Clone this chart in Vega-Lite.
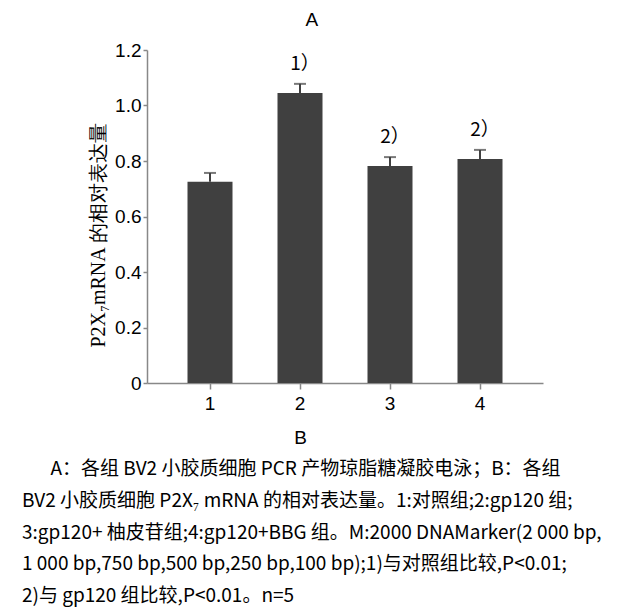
{
  "$schema": "https://vega.github.io/schema/vega-lite/v6.json",
  "padding": {"left": 22, "top": 11, "right": 5, "bottom": 5},
  "background": "white",
  "title": {"text": "A", "anchor": "middle", "fontSize": 19, "fontWeight": "normal", "font": "Liberation Sans", "color": "black", "offset": 11},
  "config": {"view": {"stroke": null}},
  "vconcat": [
    {
      "width": 396,
      "height": 333,
      "title": {
        "text": [
          "\u200b\u2003\u2002A：各组 BV2 小胶质细胞 PCR 产物琼脂糖凝胶电泳；B：各组",
          "BV2 小胶质细胞 P2X₇ mRNA 的相对表达量。1:对照组;2:gp120 组;",
          "3:gp120+ 柚皮苷组;4:gp120+BBG 组。M:2000 DNAMarker(2 000 bp,",
          "1 000 bp,750 bp,500 bp,250 bp,100 bp);1)与对照组比较,P<0.01;",
          "2)与 gp120 组比较,P<0.01。n=5"
        ],
        "orient": "bottom",
        "anchor": "start",
        "frame": "group",
        "dx": -125,
        "align": "left",
        "fontSize": 19,
        "fontWeight": "normal",
        "font": "Noto Sans CJK SC",
        "lineHeight": 31.8,
        "offset": 13,
        "color": "black"
      },
      "data": {
        "values": [
          {"group": "1", "value": 0.725, "hi": 0.757, "label": ""},
          {"group": "2", "value": 1.045, "hi": 1.078, "label": "1）"},
          {"group": "3", "value": 0.782, "hi": 0.814, "label": "2）"},
          {"group": "4", "value": 0.807, "hi": 0.84, "label": "2）"}
        ]
      },
      "encoding": {
        "x": {
          "field": "group",
          "type": "ordinal",
          "scale": {"paddingInner": 0.5, "paddingOuter": 0.45},
          "axis": {
            "title": "B",
            "labelAngle": 0,
            "domainColor": "#888888",
            "domainWidth": 1.5,
            "tickColor": "#888888",
            "tickWidth": 1.5,
            "tickSize": 6,
            "labelFontSize": 19,
            "labelFont": "Liberation Sans",
            "labelColor": "black",
            "labelPadding": 5,
            "titleFont": "Liberation Sans",
            "titleFontSize": 19,
            "titleFontWeight": "normal",
            "titleColor": "black",
            "titleX": 153,
            "titleAlign": "center",
            "titlePadding": 15
          }
        }
      },
      "layer": [
        {
          "mark": {"type": "bar", "color": "#404040"},
          "encoding": {
            "y": {
              "field": "value",
              "type": "quantitative",
              "scale": {"domain": [0, 1.2], "nice": false},
              "axis": {
                "title": "P2X₇mRNA 的相对表达量",
                "values": [0, 0.2, 0.4, 0.6, 0.8, 1.0, 1.2],
                "labelExpr": "datum.value == 0 ? '0' : format(datum.value, '.1f')",
                "grid": false,
                "domainColor": "#888888",
                "domainWidth": 1.5,
                "tickColor": "#888888",
                "tickWidth": 1.5,
                "tickSize": 4,
                "labelFontSize": 19,
                "labelFont": "Liberation Sans",
                "labelColor": "black",
                "labelPadding": 2,
                "titleFont": "Liberation Serif",
                "titleFontSize": 20,
                "titleFontWeight": "normal",
                "titleColor": "black",
                "titleX": -49,
                "titleY": 185,
                "titleAngle": -90,
                "titleBaseline": "middle",
                "titleAlign": "center"
              }
            }
          }
        },
        {
          "mark": {"type": "rule", "color": "#404040", "strokeWidth": 2},
          "encoding": {
            "y": {"field": "value", "type": "quantitative", "axis": {"title": "P2X₇mRNA 的相对表达量"}},
            "y2": {"field": "hi"}
          }
        },
        {
          "mark": {"type": "tick", "color": "#404040", "thickness": 2, "size": 12, "orient": "horizontal"},
          "encoding": {
            "y": {"field": "hi", "type": "quantitative", "axis": {"title": "P2X₇mRNA 的相对表达量"}}
          }
        },
        {
          "transform": [{"filter": "datum.label != ''"}],
          "mark": {"type": "text", "baseline": "bottom", "dy": -10, "dx": 5, "fontSize": 19, "font": "Noto Sans CJK SC", "color": "black"},
          "encoding": {
            "y": {"field": "hi", "type": "quantitative", "axis": {"title": "P2X₇mRNA 的相对表达量"}},
            "text": {"field": "label"}
          }
        }
      ]
    }
  ]
}
